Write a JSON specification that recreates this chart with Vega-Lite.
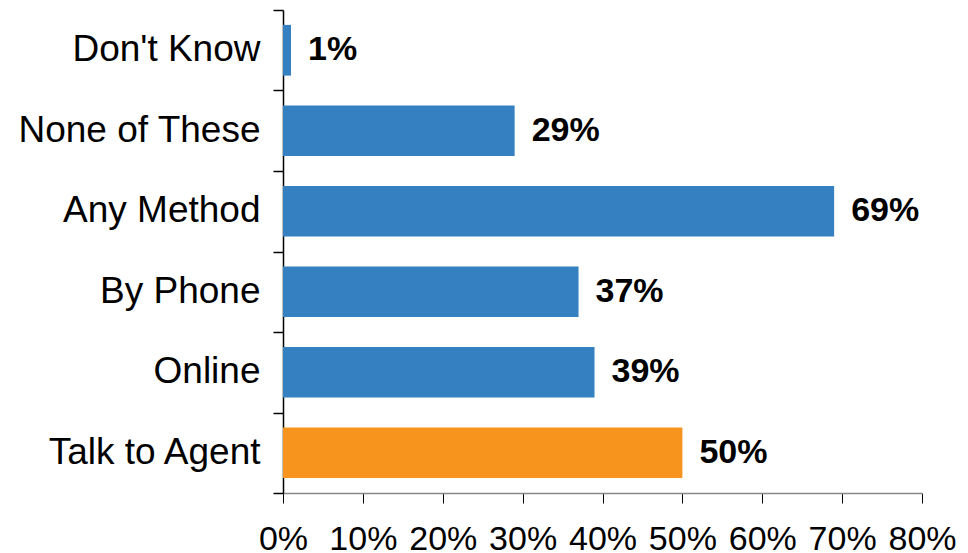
{
  "$schema": "https://vega.github.io/schema/vega-lite/v6.json",
  "width": 639,
  "height": 483,
  "autosize": {"type": "none"},
  "padding": {"left": 283, "top": 10, "right": 46, "bottom": 60},
  "config": {"view": {"stroke": null}, "font": "Liberation Sans"},
  "data": {
    "values": [
      {"category": "Don't Know", "value": 0.01, "group": "main"},
      {"category": "None of These", "value": 0.29, "group": "main"},
      {"category": "Any Method", "value": 0.69, "group": "main"},
      {"category": "By Phone", "value": 0.37, "group": "main"},
      {"category": "Online", "value": 0.39, "group": "main"},
      {"category": "Talk to Agent", "value": 0.50, "group": "highlight"}
    ]
  },
  "layer": [
    {
      "encoding": {
        "y": {
          "field": "category",
          "type": "nominal",
          "sort": null,
          "scale": {"paddingInner": 0.37, "paddingOuter": 0.185},
          "axis": {
            "title": null,
            "ticks": false,
            "tickSize": 0,
            "domain": false,
            "labelFontSize": 37,
            "labelColor": "black",
            "labelPadding": 23,
            "labelLimit": 0,
            "labelFont": "Liberation Sans"
          }
        },
        "x": {
          "field": "value",
          "type": "quantitative",
          "scale": {"domain": [0, 0.8], "nice": false},
          "axis": {
            "values": [0, 0.1, 0.2, 0.3, 0.4, 0.5, 0.6, 0.7, 0.8],
            "format": ".0%",
            "title": null,
            "grid": false,
            "labelFontSize": 34,
            "labelColor": "black",
            "labelFont": "Liberation Sans",
            "labelBaseline": "alphabetic",
            "tickSize": 10,
            "tickColor": "black",
            "tickWidth": 1,
            "domainColor": "#888888",
            "domainWidth": 1.5,
            "labelPadding": 46,
            "labelFlush": false,
            "labelOverlap": false,
            "labelBound": false
          }
        }
      },
      "layer": [
        {
          "mark": {"type": "bar"},
          "encoding": {
            "color": {
              "field": "group",
              "type": "nominal",
              "scale": {"domain": ["main", "highlight"], "range": ["#3580C0", "#F7941E"]},
              "legend": null
            }
          }
        },
        {
          "mark": {
            "type": "text",
            "align": "left",
            "baseline": "middle",
            "dx": 17,
            "fontSize": 34,
            "fontWeight": "bold",
            "font": "Liberation Sans",
            "color": "black"
          },
          "encoding": {
            "text": {"field": "value", "type": "quantitative", "format": ".0%"}
          }
        }
      ]
    },
    {
      "mark": {"type": "point", "opacity": 0},
      "encoding": {
        "y": {
          "datum": 0,
          "type": "quantitative",
          "scale": {"domain": [0, 6], "nice": false, "zero": false},
          "axis": {
            "orient": "left",
            "values": [0, 1, 2, 3, 4, 5, 6],
            "labels": false,
            "grid": false,
            "title": null,
            "tickSize": 10,
            "tickColor": "black",
            "tickWidth": 1.5,
            "domainColor": "black",
            "domainWidth": 1.5
          }
        }
      }
    }
  ],
  "resolve": {"scale": {"y": "independent"}}
}
